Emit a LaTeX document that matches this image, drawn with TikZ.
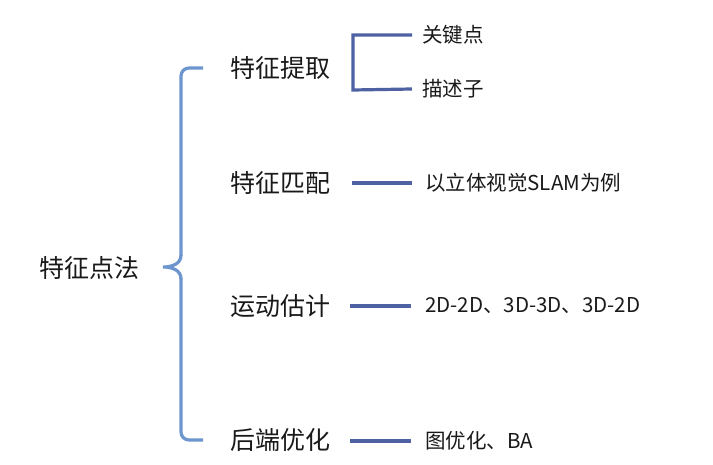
\documentclass[tikz,border=0pt]{standalone}
\usepackage{fontspec}
\setmainfont{Noto Sans CJK SC}
\begin{document}
\begin{tikzpicture}[x=1pt,y=-1pt,
  big/.style={anchor=west,inner sep=0pt,font=\fontsize{25}{29}\selectfont,text=black!90},
  small/.style={anchor=west,inner sep=0pt,font=\fontsize{20.5}{24}\selectfont,text=black!90},
  brace/.style={draw=braceblue,line width=3.2pt},
  conn/.style={draw=lineblue,line width=3.2pt}]
\definecolor{braceblue}{RGB}{108,150,205}
\definecolor{lineblue}{RGB}{78,98,163}
\useasboundingbox[fill=white] (0,0) rectangle (713,465);
\node[big] (root) at (39,268) {特征点法};
\node[big] (a) at (230,68) {特征提取};
\node[big] (b) at (230,183) {特征匹配};
\node[big] (c) at (230,306) {运动估计};
\node[big] (d) at (230,440) {后端优化};
\node[small] (a1) at (422,35) {关键点};
\node[small] (a2) at (422,89) {描述子};
\node[small] (b1) at (425,183) {以立体视觉SLAM为例};
\node[small] (c1) at (425,306) {2D-2D、3D-3D、3D-2D};
\node[small] (d1) at (425,441) {图优化、BA};
\coordinate (bt) at (203,68);
\coordinate (bb) at (203,440);
\coordinate (tip) at (163,267);
\draw[brace,rounded corners=8pt] (bt) -- (181,68) -- (181,256);
\draw[brace] (181,255) .. controls (181,264) and (172,267) .. (tip)
  .. controls (172,267) and (181,270) .. (181,279);
\draw[brace,rounded corners=8pt] (181,278) -- (181,440) -- (bb);
\draw[conn] ([xshift=-10pt]a1.west) -- (353,35) -- (353,90) -- ([xshift=-10pt]a2.west);
\draw[conn] ([xshift=-73pt]b1.west) -- ([xshift=-13pt]b1.west);
\draw[conn] ([xshift=-75pt]c1.west) -- ([xshift=-14pt]c1.west);
\draw[conn] ([xshift=-75pt]d1.west) -- ([xshift=-14pt]d1.west);
\end{tikzpicture}
\end{document}
